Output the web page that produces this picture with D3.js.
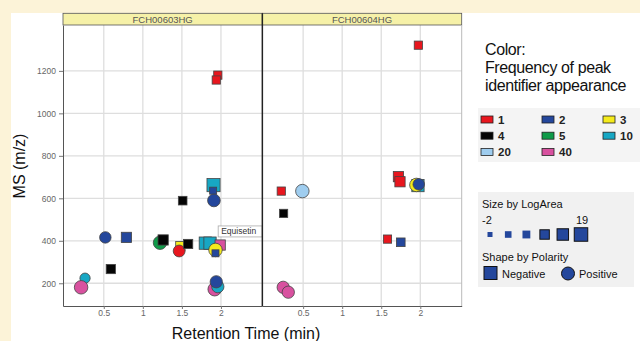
<!DOCTYPE html>
<html><head><meta charset="utf-8">
<script src="https://cdn.jsdelivr.net/npm/d3@7"></script>
<style>
body{margin:0;background:#fcf3d8;}
svg{display:block;font-family:"Liberation Sans",Arial,sans-serif;}
</style>
</head><body><svg id="c" width="640" height="341"></svg>
<script>
// ---------------- DATA ----------------
const panels = ["FCH00603HG", "FCH00604HG"];
const pointPanel = [0,0,0,0,0,0,0,0,0,0,0,0,0,0,0,0,0,0,0,0,0,0,0,0,
                    1,1,1,1,1,1,1,1,1,1,1,1,1];
const retentionTime = [1.96,1.94,1.905,1.90,1.91,1.51,0.52,0.79,0.59,0.26,0.21,1.22,1.26,1.48,1.465,1.58,1.80,1.86,1.99,1.93,1.93,1.92,1.96,1.94,
                       1.975,1.72,1.74,1.97,1.95,1.98,0.22,0.49,0.25,1.58,1.75,0.245,0.31];
const mz = [1180,1157,662,636,590,589,416,416,267,224,181,391,404,375,352,385,389,389,380,357,341,172,184,207,
            1321,702,678,660,663,666,634,634,529,408,393,181,158];
const frequency = [1,1,10,2,2,4,2,2,4,10,40,5,4,3,1,4,10,10,40,3,2,40,10,2,
                   1,1,1,10,3,2,1,20,4,1,2,40,40];
const polarity = ["N","N","N","N","P","N","P","N","N","P","P","P","N","N","P","N","N","N","N","P","N","P","P","P",
                  "N","N","N","N","P","P","N","P","N","N","N","P","P"];
const logArea = [6,6,18,3,17,7,14,11,8.5,11,19,19,11,8.5,15,8.5,16,16,11,19,3,19,16,16,
                 6,11,11,16,19,14,6,19,6,6,7,16,16];
const annotationText = ["Equisetin"];
const annotationPoint = [19];

const xTicks = [0.5, 1, 1.5, 2];
const yTicks = [200, 400, 600, 800, 1000, 1200];
const freqLevels = [1, 2, 3, 4, 5, 10, 20, 40];
const freqColors = ["#e8161e", "#24479c", "#f5eb1c", "#050505", "#0f9a48", "#17a7c4", "#9fcdef", "#d8519f"];
const sizeLegendValues = [-2, 2, 5, 9, 14, 19];
const polarityLevels = ["Negative", "Positive"];

// ---------------- CHART ----------------
const svg = d3.select("#c");
const color = d3.scaleOrdinal(freqLevels, freqColors);
const size = d3.scaleLinear([-2, 19], [5, 13.5]);

svg.append("rect").attr("x", 11).attr("y", 13).attr("width", 629).attr("height", 328).attr("fill", "#ffffff");

const plotTop = 25, plotBottom = 306, stripTop = 13.3;
const panelX = d3.scaleBand(panels, [63, 461.7]).padding(0);
const y = d3.scaleLinear([93, 1416], [plotBottom, plotTop]);

const g = svg.append("g");

panels.forEach((p, i) => {
  const x0 = panelX(p), x1 = x0 + panelX.bandwidth();
  const x = d3.scaleLinear([-0.022, 2.53], [x0, x1]);
  const pg = g.append("g");
  pg.selectAll(".gx").data(xTicks).join("line")
    .attr("x1", d => x(d)).attr("x2", d => x(d)).attr("y1", plotTop).attr("y2", plotBottom)
    .attr("stroke", "#dedede").attr("stroke-width", 1.3);
  pg.selectAll(".gy").data(yTicks).join("line")
    .attr("x1", x0).attr("x2", x1).attr("y1", d => y(d)).attr("y2", d => y(d))
    .attr("stroke", "#dedede").attr("stroke-width", 1.3);
  pg.append("rect").attr("x", x0).attr("y", stripTop).attr("width", x1 - x0).attr("height", plotTop - stripTop)
    .attr("fill", "#f6f1a8").attr("stroke", "#555").attr("stroke-width", 0.8);
  pg.append("text").attr("x", (x0 + x1) / 2).attr("y", 22.6).attr("text-anchor", "middle")
    .attr("font-size", 9.5).attr("fill", "#555").text(p);
  const xa = pg.append("g").attr("transform", `translate(0,${plotBottom})`)
    .call(d3.axisBottom(x).tickValues(xTicks).tickFormat(d3.format("~g")).tickSize(3).tickSizeOuter(0));
  xa.select(".domain").attr("stroke", "#555");
  xa.selectAll(".tick line").attr("stroke", "#777");
  xa.selectAll("text").attr("font-size", 8.5).attr("fill", "#666").attr("dy", "0.45em").attr("font-family", "Liberation Sans, Arial, sans-serif");

  const idx = d3.range(pointPanel.length).filter(k => pointPanel[k] === i);
  idx.forEach(k => {
    const cx = x(retentionTime[k]), cy = y(mz[k]), s = size(logArea[k]);
    if (polarity[k] === "N") {
      pg.append("rect").attr("x", cx - s / 2).attr("y", cy - s / 2).attr("width", s).attr("height", s)
        .attr("fill", color(frequency[k])).attr("stroke", "#444").attr("stroke-width", 0.8);
    } else {
      pg.append("circle").attr("cx", cx).attr("cy", cy).attr("r", s / 2)
        .attr("fill", color(frequency[k])).attr("stroke", "#444").attr("stroke-width", 0.8);
    }
  });
  annotationPoint.forEach((k, a) => {
    if (pointPanel[k] !== i) return;
    const ax = x(retentionTime[k]) + 2.7, ay = y(mz[k]) - 24;
    pg.append("rect").attr("x", ax).attr("y", ay).attr("width", 44).attr("height", 11)
      .attr("fill", "#fff").attr("stroke", "#aaa").attr("stroke-width", 0.8);
    pg.append("text").attr("x", ax + 3).attr("y", ay + 8.3).attr("font-size", 8.5).attr("fill", "#333")
      .text(annotationText[a]);
  });
  if (i === 1) {
    pg.append("line").attr("x1", x1).attr("x2", x1).attr("y1", plotTop).attr("y2", plotBottom).attr("stroke", "#bbb");
  }
});

const ya = g.append("g").attr("transform", `translate(63,0)`)
  .call(d3.axisLeft(y).tickValues(yTicks).tickFormat(d3.format("d")).tickSize(4).tickSizeOuter(0));
ya.select(".domain").attr("stroke", "#555");
ya.selectAll(".tick line").attr("stroke", "#777");
ya.selectAll("text").attr("font-size", 8.5).attr("fill", "#666").attr("font-family", "Liberation Sans, Arial, sans-serif");

g.append("line").attr("x1", panelX(panels[1])).attr("x2", panelX(panels[1]))
  .attr("y1", stripTop).attr("y2", plotBottom).attr("stroke", "#222").attr("stroke-width", 1.5);

svg.append("text").attr("x", 246).attr("y", 338.5).attr("text-anchor", "middle")
  .attr("font-size", 16).attr("fill", "#111").text("Retention Time (min)");
svg.append("text").attr("transform", "translate(25,166) rotate(-90)").attr("text-anchor", "middle")
  .attr("font-size", 16).attr("fill", "#111").text("MS (m/z)");

// ---------------- LEGENDS ----------------
const lg = svg.append("g");
["Color:", "Frequency of peak", "identifier appearance"].forEach((t, i) => {
  lg.append("text").attr("x", 485).attr("y", 54.5 + i * 18.3).attr("font-size", 16).attr("fill", "#111")
    .attr("letter-spacing", -0.4).text(t);
});
lg.append("rect").attr("x", 478).attr("y", 108).attr("width", 162).attr("height", 54).attr("fill", "#f4f4f4");
freqLevels.forEach((f, i) => {
  const col = i % 3, row = Math.floor(i / 3);
  const lx = 481 + col * 61, ly = 116 + row * 16.2;
  lg.append("rect").attr("x", lx).attr("y", ly).attr("width", 12).attr("height", 7)
    .attr("fill", color(f)).attr("stroke", "#222").attr("stroke-width", 0.8);
  lg.append("text").attr("x", lx + 17).attr("y", ly + 7.5).attr("font-size", 11.5).attr("font-weight", "bold")
    .attr("fill", "#222").attr("font-family", "Liberation Sans Narrow, Liberation Sans, Arial, sans-serif").text(f);
});

lg.append("rect").attr("x", 478).attr("y", 192).attr("width", 156).attr("height", 95).attr("fill", "#f1f1f1");
lg.append("text").attr("x", 482).attr("y", 208).attr("font-size", 11).attr("fill", "#111").text("Size by LogArea");
lg.append("text").attr("x", 482).attr("y", 224).attr("font-size", 11).attr("fill", "#111").text(sizeLegendValues[0]);
lg.append("text").attr("x", 576).attr("y", 224).attr("font-size", 11).attr("fill", "#111").text(sizeLegendValues[sizeLegendValues.length - 1]);
const sizeX = d3.scalePoint(sizeLegendValues, [490, 581]);
sizeLegendValues.forEach((v, i) => {
  const s = size(v);
  lg.append("rect").attr("x", sizeX(v) - s / 2).attr("y", 234.5 - s / 2).attr("width", s).attr("height", s)
    .attr("fill", "#24479c").attr("stroke", i >= 3 ? "#111" : "none").attr("stroke-width", 1);
});
lg.append("text").attr("x", 482).attr("y", 261).attr("font-size", 11).attr("fill", "#111").text("Shape by Polarity");
lg.append("rect").attr("x", 484).attr("y", 266.5).attr("width", 13).attr("height", 13)
  .attr("fill", "#24479c").attr("stroke", "#111").attr("stroke-width", 1);
lg.append("text").attr("x", 502).attr("y", 278).attr("font-size", 11).attr("fill", "#111").text(polarityLevels[0]);
lg.append("circle").attr("cx", 568).attr("cy", 273.5).attr("r", 6.5)
  .attr("fill", "#24479c").attr("stroke", "#111").attr("stroke-width", 1);
lg.append("text").attr("x", 579).attr("y", 278).attr("font-size", 11).attr("fill", "#111").text(polarityLevels[1]);
</script>
</body></html>
